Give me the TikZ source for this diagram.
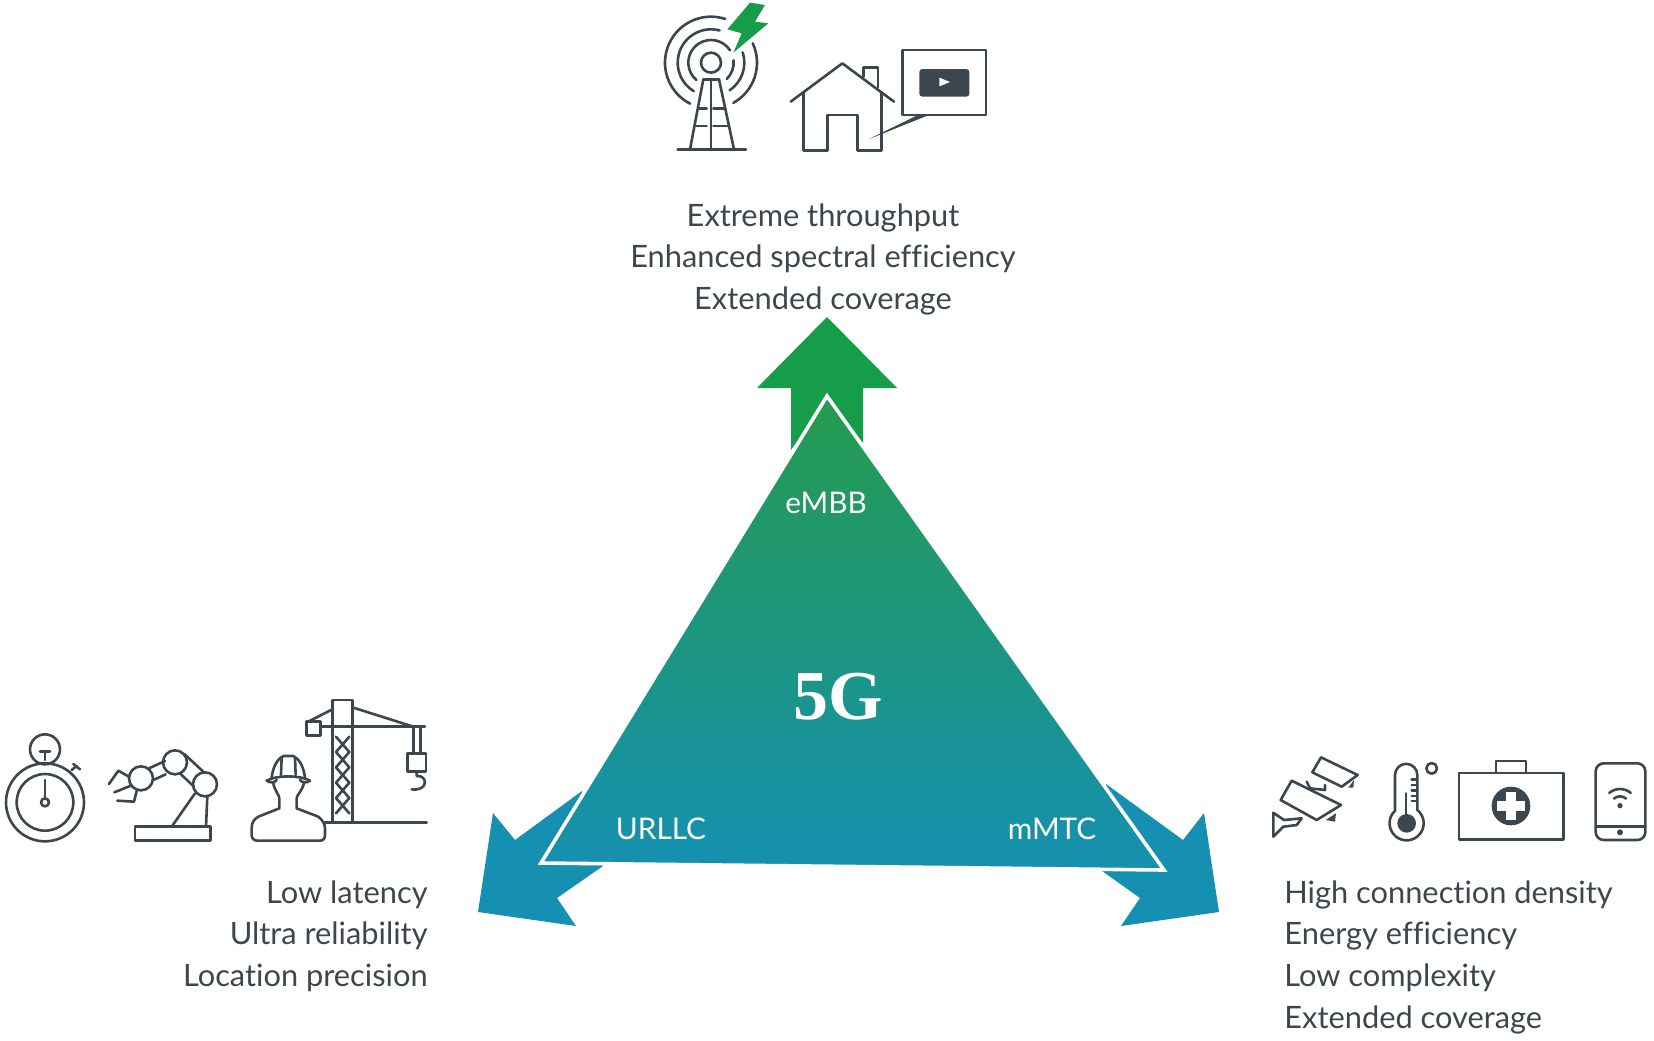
\documentclass[tikz,border=0pt]{standalone}
\usepackage{fontspec}
\setmainfont{Lato}[Ligatures=NoCommon]
\newfontfamily\titlefont{Liberation Serif}
\definecolor{icongray}{HTML}{3C464E}
\definecolor{arrowgreen}{HTML}{169D49}
\definecolor{arrowblue}{HTML}{1590B0}
\definecolor{triangletop}{HTML}{259B4E}
\tikzset{
  icon/.style={draw=icongray,line width=1.3pt,line join=round,line cap=round},
  usecase/.style={text=icongray,inner sep=0pt,font=\fontsize{15.4}{20.9}\selectfont},
  corner/.style={text=white,font=\fontsize{14.9}{17}\selectfont}
}

\begin{document}
\begin{tikzpicture}[x=0.5pt,y=-0.5pt]
\useasboundingbox (0,0) rectangle (1654,1040);

% arrows
\fill[arrowgreen] (827,317) -- (897,388) -- (863,388) -- (863,443) -- (827,400) -- (791,450) -- (791,388) -- (757,388) -- cycle;
\fill[arrowblue] (582,791) -- (515,840) -- (493,813) -- (478,912) -- (576,926) -- (557,898) -- (603,866) -- cycle;
\fill[arrowblue] (1106,784) -- (1183,840) -- (1204,813) -- (1219,912) -- (1121,926) -- (1140,898) -- (1102,871) -- cycle;

% triangle
\path[draw=white,line width=1.8pt,top color=triangletop,bottom color=arrowblue,line join=miter]
  (827,396) -- (1164,870) -- (541,863) -- cycle;

\node[corner] (embb) at (826,503) {eMBB};
\node[corner] (urllc) at (661,829) {URLLC};
\node[corner] (mmtc) at (1052,829) {mMTC};
\node[text=white,font=\titlefont\bfseries\fontsize{35}{40}\selectfont] (fiveg) at (838,697) {5G};

% texts
\node[usecase,align=center,anchor=north] (embbtext) at (823,203)
  {Extreme throughput\\Enhanced spectral efficiency\\Extended coverage};
\node[usecase,align=right,anchor=north east] (urllctext) at (428,880)
  {Low latency\\Ultra reliability\\Location precision};
\node[usecase,align=left,anchor=north west] (mmtctext) at (1284,880)
  {High connection density\\Energy efficiency\\Low complexity\\Extended coverage};

% tower and house
\begin{scope}[shift={(640,0)},scale=1/3]
  \draw[icon] (213,188) circle[radius=30];
  \foreach \r/\a/\b/\c/\d in {68/33/230/6/-46, 100/75/239/18/-56, 138/72/243/25/-61}
  {
    \draw[icon] (213,188) ++(-\a:\r) arc[start angle=-\a,end angle=-\b,radius=\r];
    \draw[icon] (213,188) ++(-\c:\r) arc[start angle=-\c,end angle=-\d,radius=\r];
  }
  \draw[icon] (190,238) -- (237,238);
  \draw[icon] (190,238) -- (150,448);
  \draw[icon] (237,238) -- (282,448);
  \draw[icon] (213,238) -- (213,448);
  \draw[icon] (113,448) -- (318,448);
  \draw[icon] (175,325) -- (200,325);
  \draw[icon] (220,325) -- (255,325);
  \draw[icon] (165,378) -- (200,378);
  \draw[icon] (220,378) -- (265,378);
  \fill[arrowgreen] (330,8) -- (375,15) -- (345,65) -- (385,70) -- (280,158) -- (305,100) -- (262,88) -- cycle;
  % house
  \draw[icon] (452,305) -- (607,190) -- (762,305);
  \draw[icon] (490,278) -- (490,452) -- (563,452) -- (563,345) -- (652,345) -- (652,452) -- (724,452) -- (724,278);
  \draw[icon] (670,230) -- (670,202) -- (714,202) -- (714,262);
  \draw[icon] (788,150) rectangle (1038,345);
  \fill[icongray,rounded corners=1.5pt] (838,207) rectangle (988,290);
  \fill[white] (898,233) -- (930,246) -- (898,259) -- cycle;
  \fill[icongray] (685,418) -- (830,347) -- (862,347) -- cycle;
\end{scope}

% stopwatch, robot, worker and crane
\begin{scope}[shift={(0,680)},scale=1/3]
  \draw[icon] (135,367) circle[radius=117];
  \draw[icon] (135,367) circle[radius=85];
  \draw[icon] (135,208) circle[radius=45];
  \draw[icon] (120,215) -- (150,215);
  \draw[icon] (135,215) -- (135,240);
  \draw[icon] (135,300) -- (135,355);
  \draw[icon] (135,367) circle[radius=12];
  \draw[icon] (215,270) -- (230,258);
  \draw[icon] (220,252) -- (240,268);
  % robot
  \foreach \x/\y in {423/295, 525/247, 615/313}
    \draw[icon] (\x,\y) circle[radius=36];
  \draw[icon] (447,265) -- (495,243);
  \draw[icon] (460,300) -- (497,283);
  \draw[icon] (553,222) -- (610,275);
  \draw[icon] (540,280) -- (582,320);
  \draw[icon] (405,440) rectangle (632,482);
  \draw[icon] (515,440) -- (585,340);
  \draw[icon] (618,440) -- (622,350);
  \draw[icon] (387,290) -- (355,272) -- (327,312);
  \draw[icon] (390,318) -- (343,337);
  \draw[icon] (410,333) -- (402,365) -- (352,362);
  % worker
  \draw[icon] (815,292) .. controls (820,255) and (835,235) .. (850,228) -- (880,228) .. controls (895,235) and (910,255) .. (915,292);
  \draw[icon] (845,232) -- (843,285);
  \draw[icon] (885,232) -- (887,285);
  \draw[icon] (800,302) .. controls (830,285) and (900,285) .. (930,302);
  \draw[icon] (800,302) .. controls (810,310) and (825,308) .. (830,300);
  \draw[icon] (930,302) .. controls (920,310) and (905,308) .. (900,300);
  \draw[icon] (820,310) .. controls (825,335) and (838,345) .. (838,355) -- (838,385) -- (775,410)
    .. controls (760,418) and (755,430) .. (755,445) -- (755,465) .. controls (755,475) and (762,482) .. (772,482)
    -- (960,482) .. controls (970,482) and (975,475) .. (975,465) -- (975,445)
    .. controls (975,430) and (965,418) .. (955,410) -- (890,385) -- (890,355)
    .. controls (890,345) and (905,335) .. (912,310);
  % crane
  \draw[icon] (997,60) rectangle (1057,428);
  \draw[icon] (962,140) -- (1275,140);
  \draw[icon] (920,125) rectangle (962,167);
  \draw[icon] (925,125) -- (997,88);
  \draw[icon] (1057,82) -- (1240,140);
  \draw[icon] (1240,140) -- (1240,218);
  \draw[icon] (1262,140) -- (1262,218);
  \draw[icon] (1222,220) rectangle (1278,275);
  \draw[icon] (1250,275) -- (1250,288) .. controls (1285,285) and (1285,335) .. (1235,328);
  \draw[icon] (975,428) -- (1280,428);
  \foreach \y in {170,216,262,308,354}
  {
    \draw[icon] (1008,\y) -- (1048,\y+46);
    \draw[icon] (1048,\y) -- (1008,\y+46);
  }
\end{scope}

% cameras, thermometer, case and phone
\begin{scope}[shift={(1260,740)},scale=1/3]
  \draw[icon] (183,52) -- (293,105) -- (245,140) -- (157,97) -- cycle;
  \fill[icongray] (265,143) -- (282,120) -- (280,143) -- cycle;
  \draw[icon] (95,122) -- (243,195) -- (170,240) -- (62,180) -- cycle;
  \fill[icongray] (197,240) -- (228,220) -- (225,245) -- cycle;
  \draw[icon] (140,125) -- (150,145) -- (195,150) -- (195,135);
  \draw[icon] (40,218) -- (72,240) -- (125,235) -- (110,255) -- (70,260) -- (40,290) -- cycle;
  % thermometer
  \draw[icon] (405,211) -- (405,105) arc[start angle=180,end angle=360,radius=33.5] -- (472,210)
    arc[start angle=-51,end angle=229,radius=51.2];
  \fill[icongray] (440,250) circle[radius=28];
  \draw[icon] (438,160) -- (438,225);
  \foreach \y in {118,135,152,168,183}
    \draw[icon] (455,\y) -- (472,\y);
  \draw[icon] (515,85) circle[radius=16];
  % case
  \draw[icon] (597,99) rectangle (911,298);
  \draw[icon] (708,99) -- (708,63) -- (798,63) -- (798,99);
  \fill[icongray] (753,198) circle[radius=58];
  \fill[white] (739,156) rectangle (767,240);
  \fill[white] (711,184) rectangle (795,212);
  % phone
  \draw[icon,rounded corners=4pt] (1007,70) rectangle (1156,300);
  \draw[icon] (1007,260) -- (1156,260);
  \fill[icongray] (1080,277) circle[radius=9];
  \fill[icongray] (1080,197) circle[radius=8];
  \foreach \r in {28,50}
    \draw[icon] (1080,197) ++(-50:\r) arc[start angle=-50,end angle=-130,radius=\r];
\end{scope}

\end{tikzpicture}
\end{document}
